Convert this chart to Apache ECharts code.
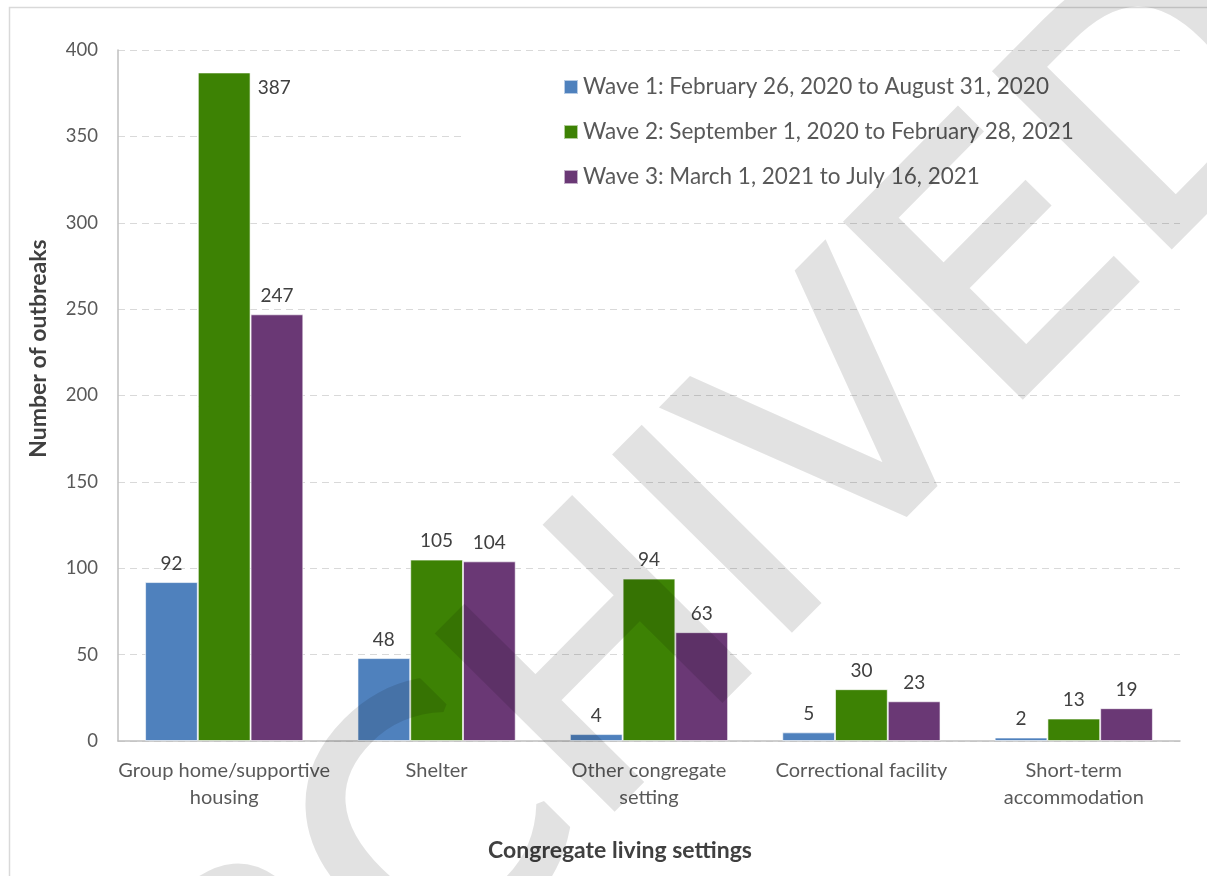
<!DOCTYPE html>
<html>
<head>
<meta charset="utf-8">
<script src="https://cdn.jsdelivr.net/npm/echarts@6/dist/echarts.min.js"></script>
<style>
  html, body { margin: 0; padding: 0; background: #fff; }
  #chart { width: 1207px; height: 876px; }
</style>
</head>
<body>
<div id="chart"></div>
<script>
// categories and their wrapped tick labels
const categories = ['Group home/supportive housing', 'Shelter', 'Other congregate setting', 'Correctional facility', 'Short-term accommodation'];
const tickLabels = ['Group home/supportive\nhousing', 'Shelter', 'Other congregate\nsetting', 'Correctional facility', 'Short-term\naccommodation'];

const seriesNames = [
  'Wave 1: February 26, 2020 to August 31, 2020',
  'Wave 2: September 1, 2020 to February 28, 2021',
  'Wave 3: March 1, 2021 to July 16, 2021'
];
const wave1 = [92, 48, 4, 5, 2];
const wave2 = [387, 105, 94, 30, 13];
const wave3 = [247, 104, 63, 23, 19];

const colors = ['#4f81bd', '#3d8204', '#6a3875'];
const fontFamily = 'Lato, "Open Sans", sans-serif';

const chart = echarts.init(document.getElementById('chart'));

function barSeries(name, values, color) {
  return {
    name: name,
    type: 'bar',
    barGap: '0%',
    barCategoryGap: '25.5%',
    itemStyle: { color: color, borderColor: 'rgba(255,255,255,0.6)', borderWidth: 1 },
    label: {
      show: true,
      position: 'top',
      distance: 9,
      color: '#404040',
      fontSize: 19,
      fontFamily: fontFamily
    },
    data: values.map((v) => v)
  };
}

const series = [
  barSeries(seriesNames[0], wave1, colors[0]),
  barSeries(seriesNames[1], wave2, colors[1]),
  barSeries(seriesNames[2], wave3, colors[2])
];
// the tallest label sits beside its bar instead of above it
series[1].data[0] = {
  value: wave2[0],
  label: { position: [60, 6], align: 'left', verticalAlign: 'top' }
};

const option = {
  backgroundColor: '#fff',
  animation: false,
  textStyle: { fontFamily: fontFamily },
  grid: { left: 118, right: 27, top: 50, bottom: 135 },
  legend: {
    orient: 'vertical',
    left: 465,
    top: 55,
    padding: [20, 113, 15, 98],
    backgroundColor: '#fff',
    itemWidth: 14,
    itemHeight: 14,
    itemGap: 21,
    icon: 'rect',
    textStyle: { color: '#595959', fontSize: 22.5, lineHeight: 24, fontFamily: fontFamily },
    data: seriesNames
  },
  xAxis: {
    type: 'category',
    data: categories,
    name: 'Congregate living settings',
    nameLocation: 'middle',
    nameGap: 98,
    nameTextStyle: { color: '#404040', fontSize: 23, fontWeight: 'bold', padding: [0, 58, 0, 0], fontFamily: fontFamily },
    axisLine: { lineStyle: { color: '#bfbfbf', width: 1.5 } },
    axisTick: { show: false },
    axisLabel: {
      color: '#595959',
      fontSize: 20,
      lineHeight: 27,
      margin: 16,
      interval: 0,
      formatter: (v, i) => tickLabels[i]
    }
  },
  yAxis: {
    type: 'value',
    min: 0,
    max: 400,
    interval: 50,
    name: 'Number of outbreaks',
    nameLocation: 'middle',
    nameGap: 68,
    nameTextStyle: { color: '#404040', fontSize: 23, fontWeight: 'bold', padding: [0, 0, 0, 94], fontFamily: fontFamily },
    axisLine: { show: true, lineStyle: { color: '#bfbfbf', width: 1.5 } },
    axisTick: { show: false },
    axisLabel: { color: '#595959', fontSize: 18.5, margin: 20 },
    splitLine: { lineStyle: { color: '#d9d9d9', type: [7, 5] } }
  },
  graphic: [
    {
      type: 'rect',
      left: 7,
      top: 5,
      shape: { width: 1240, height: 900 },
      style: { fill: 'none', stroke: '#d9d9d9', lineWidth: 1.5 },
      z: 100
    },
    {
      // watermark, drawn solid on its own layer; the layer gets the transparency
      type: 'text',
      zlevel: 1,
      x: 660,
      y: 636,
      rotation: 0.79,
      style: {
        text: 'ARCHIVED',
        font: '335px "DejaVu Sans"',
        fill: '#000',
        stroke: '#000',
        lineWidth: 9,
        lineJoin: 'round',
        align: 'center',
        verticalAlign: 'middle'
      }
    }
  ],
  series: series
};

chart.setOption(option);

const wmLayer = chart.getZr().painter.getLayer(1);
if (wmLayer && wmLayer.dom) wmLayer.dom.style.opacity = 0.11;
</script>
</body>
</html>
